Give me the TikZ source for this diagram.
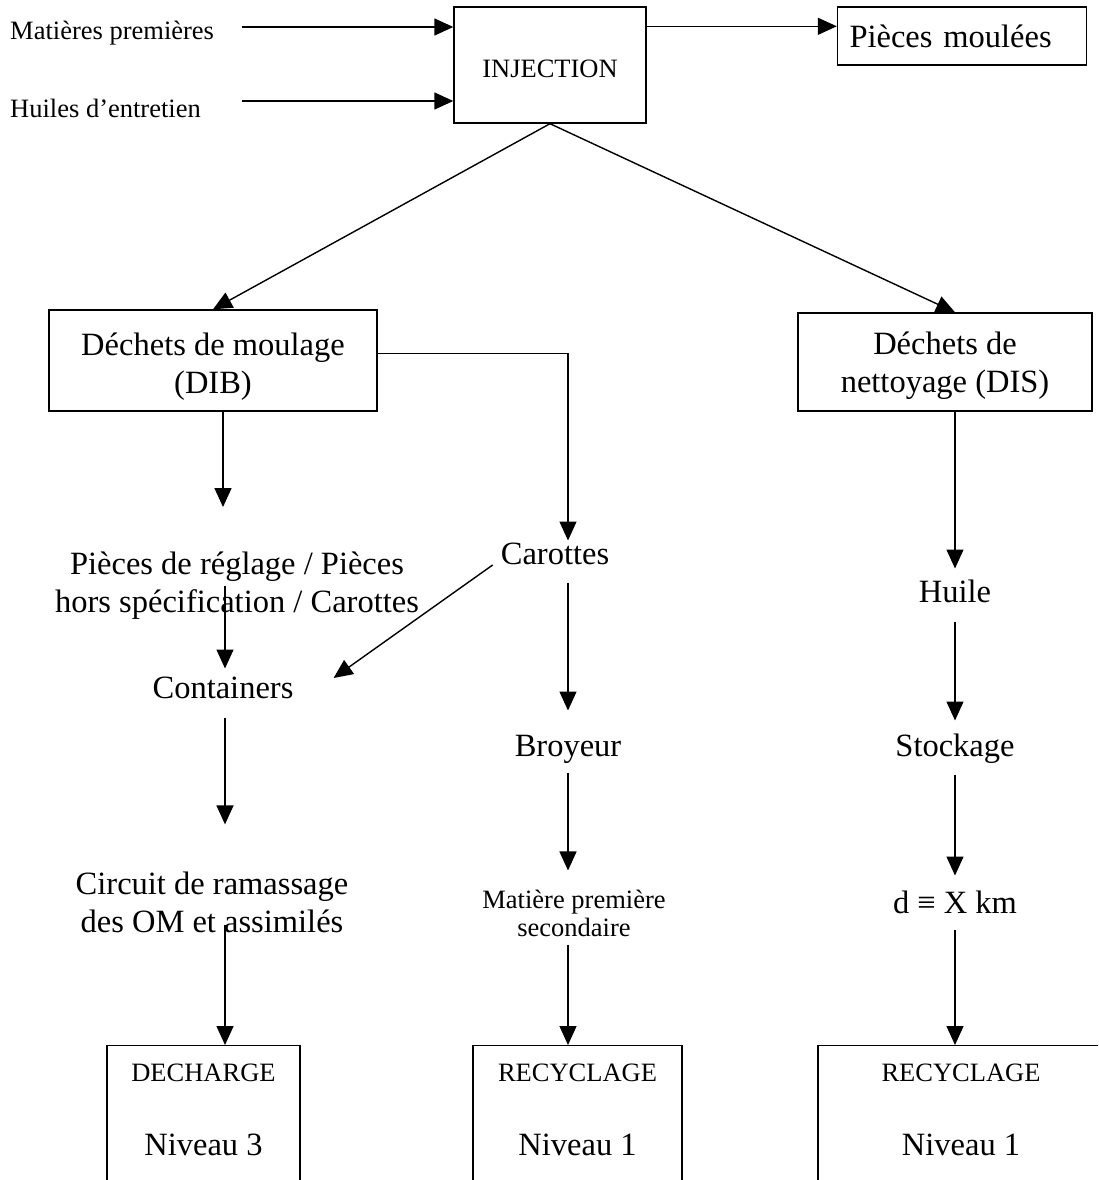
\documentclass[tikz,border=0pt]{standalone}
\usepackage{fontspec}
\setmainfont{Liberation Serif}
\usepackage{tikz}
\usetikzlibrary{arrows.meta,positioning}
\newcommand{\grandtxt}{\fontsize{32.5}{38}\selectfont}
\newcommand{\petittxt}{\fontsize{26.5}{28}\selectfont}

\begin{document}
\begin{tikzpicture}[x=1pt, y=-1pt,
    boite/.style={draw, line width=1.4pt, inner sep=0pt},
    etape/.style={inner sep=0pt, font=\grandtxt, text height=23.4pt, text depth=7.2pt},
    etapeml/.style={inner sep=0pt, font=\grandtxt, align=center},
    petit/.style={inner sep=0pt, font=\petittxt, text height=19pt, text depth=5.8pt},
    petitml/.style={inner sep=0pt, font=\petittxt, align=center},
    fleche/.style={line width=1.4pt, -{Triangle[length=19pt, width=17pt]}}]

    \useasboundingbox (0,0) rectangle (1098,1180);
    \clip (0,0) rectangle (1098,1180);

    \node[petit, anchor=west] (mp) at (10,33) {Matières premières};
    \node[petit, anchor=west] (he) at (10,111) {Huiles d’entretien};
    \node[boite, font=\petittxt, text height=31pt, text depth=5.8pt, minimum width=192pt, minimum height=116pt] (inj) at (550,65) {INJECTION};
    \node[boite, font=\grandtxt, text width=225pt, inner xsep=12pt, minimum height=58pt, align=left] (pm) at (962,36) {Pièces moulées};

    \draw[fleche] ([xshift=28pt,yshift=6pt]mp.east) -- ([yshift=6pt]mp.east -| inj.west);
    \draw[fleche] ([xshift=28pt,yshift=10pt]mp.east |- he.east) -- ([yshift=10pt]he.east -| inj.west);
    \draw[fleche] ([yshift=-20pt]inj.north east) -- ([yshift=-20pt]inj.north east -| pm.west);

    \node[boite, minimum width=328pt, minimum height=101pt] (dib) at (213,360.5) {};
    \node[etapeml] (dibT) at ([yshift=-6pt]dib.center) {Déchets de moulage\\(DIB)};
    \node[boite, minimum width=294pt, minimum height=98pt] (dis) at (945,362) {};
    \node[etapeml] (disT) at ([yshift=-4pt]dis.center) {Déchets de\\nettoyage (DIS)};

    \draw[fleche] (inj.south) -- (dib.north);
    \draw[fleche] (inj.south) -- ([xshift=10pt]dis.north);

    \node[etapeml] (pr) at (237,586) {Pièces de réglage / Pièces\\hors spécification / Carottes};
    \node[etape] (car) at (555,556) {Carottes};
    \node[etape] (cont) at (223,690) {Containers};
    \node[etape] (bro) at (568,748) {Broyeur};
    \node[etapeml] (circ) at (212,902) {Circuit de ramassage\\des OM et assimilés};
    \node[petitml] (mps) at (574,913) {Matière première\\secondaire};
    \node[etape] (hui) at (955,594) {Huile};
    \node[etape] (sto) at (955,748) {Stockage};
    \node[etape] (dist) at (955,905) {d ≡ X km};

    \node[boite, anchor=north, minimum width=193pt, minimum height=200pt] (dech) at (203.5,1045) {};
    \node[petit] (dechT) at ([yshift=-30pt]dech.north) {DECHARGE};
    \node[etape] (dechN) at ([yshift=-102pt]dech.north) {Niveau 3};
    \node[boite, anchor=north, minimum width=209pt, minimum height=200pt] (recA) at (577.5,1045) {};
    \node[petit] (recAT) at ([yshift=-30pt]recA.north) {RECYCLAGE};
    \node[etape] (recAN) at ([yshift=-102pt]recA.north) {Niveau 1};
    \node[boite, anchor=north, minimum width=286pt, minimum height=200pt] (recB) at (961,1045) {};
    \node[petit] (recBT) at ([yshift=-30pt]recB.north) {RECYCLAGE};
    \node[etape] (recBN) at ([yshift=-102pt]recB.north) {Niveau 1};

    \draw[fleche, shorten >=45pt] ([xshift=10pt]dib.south) -- ([xshift=10pt]dib.south |- pr.north);
    \draw[fleche, shorten >=6pt] ([xshift=-12pt]pr.center) -- ([xshift=2pt]cont.north);
    \draw[fleche, shorten <=12pt, shorten >=47pt] ([xshift=2pt]cont.south) -- ([xshift=2pt]cont.south |- circ.north);
    \draw[fleche] ([xshift=13pt,yshift=-23pt]circ.center) -- ([xshift=13pt]circ.center |- dech.north);

    \draw[fleche] ([yshift=7pt]dib.east) -| ([xshift=13pt]car.north);
    \draw[fleche] ([shift={(-8pt,-9pt)}]car.west) -- ([shift={(40pt,12pt)}]cont.east);
    \draw[fleche, shorten <=11pt, shorten >=22pt] ([xshift=13pt]car.south) -- (bro.north);
    \draw[fleche, shorten <=9pt, shorten >=19pt] (bro.south) -- (bro.south |- mps.north);
    \draw[fleche, shorten <=8pt] (bro.south |- mps.south) -- (bro.south |- recA.north);

    \draw[fleche, shorten >=10pt] ([xshift=10pt]dis.south) -- ([xshift=10pt]dis.south |- hui.north);
    \draw[fleche, shorten <=12pt, shorten >=12pt] (hui.south) -- (sto.north);
    \draw[fleche, shorten <=11pt, shorten >=14pt] (sto.south) -- (dist.north);
    \draw[fleche, shorten <=9pt] (dist.south) -- (dist.south |- recB.north);
\end{tikzpicture}
\end{document}
